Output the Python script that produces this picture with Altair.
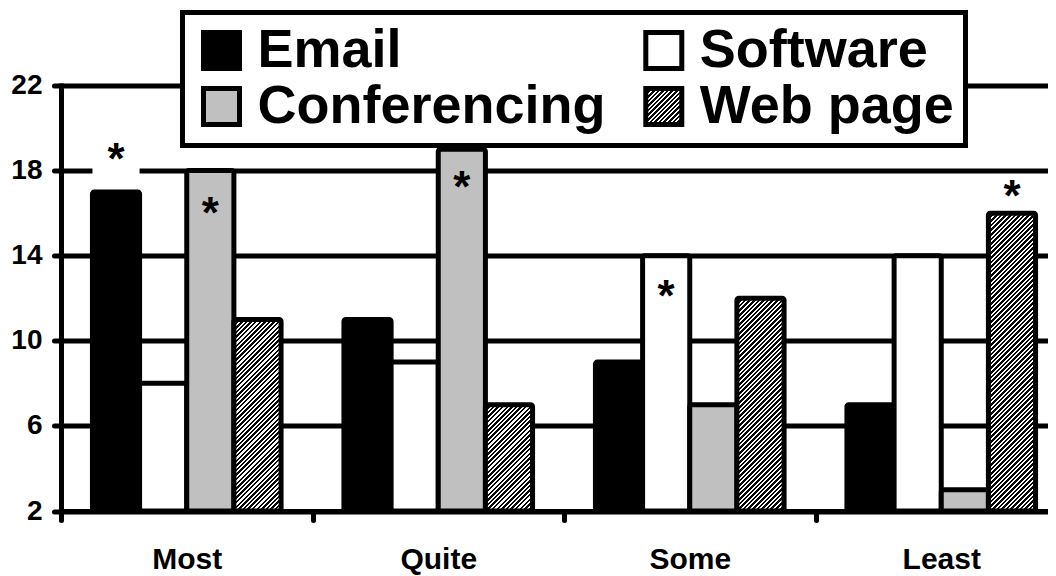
import altair as alt
import pandas as pd

# ---------------- data ----------------
categories = ["Most", "Quite", "Some", "Least"]
series = ["Email", "Software", "Conferencing", "Web page"]
email = [17, 11, 9, 7]
software = [8, 9, 14, 14]
conferencing = [18, 19, 7, 3]
web_page = [11, 7, 12, 16]
y_ticks = [2, 6, 10, 14, 18, 22]

# asterisks (significance markers): category, series, vertical centre in data units
star_cat = ["Most", "Most", "Quite", "Some", "Least"]
star_series = ["Email", "Conferencing", "Conferencing", "Software", "Web page"]
star_y = [18.9, 16.4, 17.6, 12.5, 17.2]

# white label background behind the first asterisk
knock_cat = ["Most"]
knock_series = ["Email"]
knock_lo = [17.25]
knock_hi = [19.6]

# legend reading order (two columns, filled column by column)
legend_order = ["Email", "Conferencing", "Software", "Web page"]

# ---------------- layout / style ----------------
Y_MIN, Y_MAX = 2, 22
PLOT_W = 987          # visible plot width (SVG = 1040 px wide)
X_RANGE = 1006        # the category axis runs on past the right edge, as in the original
PLOT_H = 425.5
STEP = X_RANGE / 4
PAD_IN, PAD_OUT = 0.25, 0.125
BAR_W = STEP * (1 - PAD_IN) / 4
PX_PER_UNIT = PLOT_H / (Y_MAX - Y_MIN)
FONT = "Liberation Sans"
color_of = {"Email": "black", "Software": "white", "Conferencing": "#c0c0c0"}


def hatch(w, h, period=4.6, black=0.55):
    """Diagonal '/' hatch as a hard-stop linear gradient for a w x h box."""
    L = w + h
    stops = []
    k = 0
    while k * period / L < 1:
        t0 = round(k * period / L, 5)
        t1 = round(min((k + black) * period / L, 1), 5)
        t2 = round(min((k + 1) * period / L, 1), 5)
        stops += [{"offset": t0, "color": "black"}, {"offset": t1, "color": "black"}]
        if t1 < 1:
            stops += [{"offset": t1, "color": "white"}, {"offset": t2, "color": "white"}]
        k += 1
    kk = L / (w * w + h * h)
    return {"gradient": "linear", "x1": 0, "y1": 0,
            "x2": round(kk * w, 5), "y2": round(kk * h, 5), "stops": stops}


def gradient_expr(g):
    stops = ",".join("{offset:%s,color:'%s'}" % (s["offset"], s["color"]) for s in g["stops"])
    return ("{gradient:'linear',x1:%s,y1:%s,x2:%s,y2:%s,stops:[%s]}"
            % (g["x1"], g["y1"], g["x2"], g["y2"], stops))


rows = []
for i, c in enumerate(categories):
    for s, vals in zip(series, [email, software, conferencing, web_page]):
        rows.append({"cat": c, "series": s, "value": vals[i]})
df = pd.DataFrame(rows)

stars = pd.DataFrame({"cat": star_cat, "series": star_series, "y": star_y})
knock = pd.DataFrame({"cat": knock_cat, "series": knock_series,
                      "lo": knock_lo, "hi": knock_hi})

web_conditions = []
for i, c in enumerate(categories):
    h = (web_page[i] - Y_MIN) * PX_PER_UNIT
    web_conditions.append({
        "test": f"datum.series === 'Web page' && datum.cat === '{c}'",
        "value": hatch(BAR_W, h),
    })

legend_hatch = {"expr": gradient_expr(hatch(36, 36))}
fill_range = [color_of.get(s, legend_hatch) for s in legend_order]

x_scale = alt.Scale(domain=categories, range=[0, X_RANGE],
                    paddingInner=PAD_IN, paddingOuter=PAD_OUT)
xo_scale = alt.Scale(domain=series, paddingInner=0, paddingOuter=0)
y_scale = alt.Scale(domain=[Y_MIN, Y_MAX], nice=False, zero=False)

x_axis = alt.Axis(title=None, labelAngle=0, bandPosition=0.5,
                  tickOffset=-STEP / 2, labelOffset=STEP / 2,
                  tickSize=9, tickWidth=5, tickColor="black", tickCap="round",
                  domainColor="black", domainWidth=5, domainCap="square",
                  labelFont=FONT, labelFontSize=30, labelFontWeight="bold",
                  labelColor="black", labelPadding=24, grid=False)
y_axis = alt.Axis(title=None, values=y_ticks, grid=True, gridColor="black",
                  gridWidth=5, gridOpacity=1,
                  tickSize=7, tickWidth=5, tickColor="black", tickCap="round",
                  domainColor="black", domainWidth=5, domainCap="square",
                  labelFont=FONT, labelFontSize=28, labelFontWeight="bold",
                  labelColor="black", labelPadding=12)

legend = alt.Legend(
    orient="none", legendX=121.5, legendY=-73, columns=2,
    columnPadding=29.3, rowPadding=0, padding=11,
    symbolType="square", symbolSize=1296, symbolStrokeColor="black",
    symbolStrokeWidth=5, symbolOffset=1, labelOffset=9,
    labelFont=FONT, labelFontSize=54, labelFontWeight="bold",
    labelColor="black", labelLimit=900,
    strokeColor="black", fillColor="white", title=None,
)

bars = alt.Chart(df).mark_bar(stroke="black", strokeWidth=5, cornerRadius=2).encode(
    x=alt.X("cat:N", scale=x_scale, axis=x_axis),
    xOffset=alt.XOffset("series:N", scale=xo_scale),
    y=alt.Y("value:Q", scale=y_scale, axis=y_axis),
    y2=alt.datum(Y_MIN),
    fill=alt.Fill("series:N", scale=alt.Scale(domain=legend_order, range=fill_range),
                  legend=legend, condition=web_conditions),
)

knock_layer = alt.Chart(knock).mark_bar(fill="white", strokeWidth=0).encode(
    x=alt.X("cat:N", scale=x_scale, axis=x_axis),
    xOffset=alt.XOffset("series:N", scale=xo_scale),
    y=alt.Y("lo:Q", scale=y_scale, axis=y_axis),
    y2=alt.Y2("hi:Q"),
)

star_layer = alt.Chart(stars).mark_text(
    text="*", font=FONT, fontSize=44, fontWeight="bold", color="black",
    align="center", baseline="alphabetic", dy=23,
).encode(
    x=alt.X("cat:N", scale=x_scale, axis=x_axis),
    xOffset=alt.XOffset("series:N", scale=xo_scale),
    y=alt.Y("y:Q", scale=y_scale, axis=y_axis),
)

chart = alt.layer(bars, knock_layer, star_layer).properties(
    width=PLOT_W, height=PLOT_H,
    autosize=alt.AutoSizeParams(type="none"),
    padding={"left": 53, "top": 77.5, "right": 0, "bottom": 65},
).configure_view(stroke=None).configure_legend(strokeWidth=5)

chart.save("out.html", embed_options={"renderer": "svg", "actions": False})
